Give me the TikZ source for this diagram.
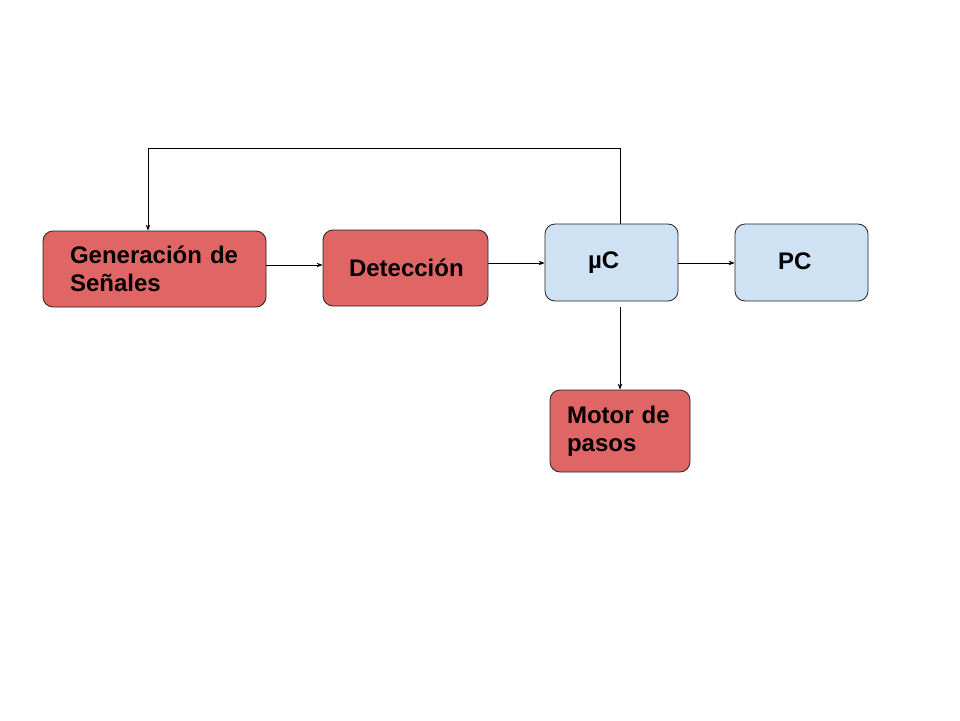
\documentclass[tikz,border=0pt]{standalone}
\usepackage{fontspec}
\setmainfont{Liberation Sans}
\usetikzlibrary{arrows.meta,calc}
\definecolor{redbox}{HTML}{E06666}
\definecolor{bluebox}{HTML}{CFE2F3}
\definecolor{edge}{HTML}{222222}
\begin{document}
\begin{tikzpicture}[x=1pt,y=1pt,
  box/.style={draw=edge, line width=0.8pt, rounded corners=10pt, align=left,
     font=\fontsize{24}{28}\selectfont\bfseries, inner ysep=0pt},
  redb/.style={box, fill=redbox},
  blueb/.style={box, fill=bluebox},
  arr/.style={draw=black, line width=0.8pt, -{Stealth[length=6pt,width=4.5pt]}}]
\path[use as bounding box, fill=white] (0,0) rectangle (960,-720);
\node[redb, minimum width=223pt, minimum height=76pt, inner xsep=27pt, text width=169pt] (gen) at (154.5,-269) {Generación de\\Señales};
\node[redb, minimum width=165pt, minimum height=76pt, inner xsep=26pt, text width=113pt] (det) at (405.5,-268) {Detección};
\node[blueb, minimum width=133pt, minimum height=77pt, inner xsep=43pt, text width=47pt] (uc) at (611.5,-262.5) {µC};
\node[blueb, minimum width=133pt, minimum height=77pt, inner xsep=43pt, text width=47pt, yshift=0pt] (pc) at (801.5,-262.5) {\raisebox{3pt}{PC}};
\node[redb, minimum width=140pt, minimum height=82pt, inner xsep=17pt, text width=106pt] (mot) at (620,-431) {Motor de\\pasos};
\coordinate (fbR) at (620,-148);
\coordinate (fbL) at (148,-148);
\draw[arr] (uc.north -| fbR) -- (fbR) -- (fbL) -- (gen.north -| fbL);
\draw[arr] (gen.east |- 0,-265) -- (det.west |- 0,-265);
\draw[arr] (det.east |- 0,-263) -- (uc.west |- 0,-263);
\draw[arr] (uc.east |- 0,-263) -- (pc.west |- 0,-263);
\draw[arr, shorten <=6pt] (mot.north |- uc.south) -- (mot.north);
\end{tikzpicture}
\end{document}
